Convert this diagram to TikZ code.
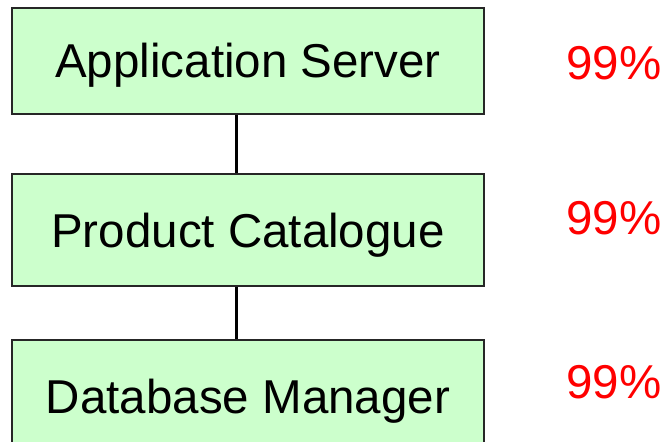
\documentclass[tikz,border=0pt]{standalone}
\usepackage{fontspec}
\setmainfont{Liberation Sans}
\usepackage{tikz}
\usetikzlibrary{positioning}
\definecolor{boxgreen}{HTML}{CCFFCC}
\definecolor{uptimered}{HTML}{FF0000}

\begin{document}
\begin{tikzpicture}[
    x=1bp, y=-1bp,
    component/.style={
        % The shape:
        rectangle,
        minimum width=472bp,
        inner sep=0pt,
        text height=34bp,
        text depth=0bp,
        % The fill
        line width=2bp,
        draw=black!85,
        fill=boxgreen,
        % The fonts
        font=\fontsize{47.5bp}{57bp}\selectfont},
    uptime/.style={
        anchor=base west,
        inner sep=0pt,
        text=uptimered,
        font=\fontsize{47.5bp}{57bp}\selectfont},
    link/.style={line width=3bp, draw=black}
  ]
  \useasboundingbox (0,0) rectangle (662,442);
  \node (app) [component,minimum height=106bp] at (248,61) {Application Server};
  \node (cat) [component,minimum height=112bp,below=58bp of app] {Product Catalogue};
  \node (db) [component,minimum height=112bp,below=52bp of cat] {Database Manager};
  % availability of each tier
  \node (app uptime) [uptime] at (566,80) {99\%};
  \node (cat uptime) [uptime] at (566,235) {99\%};
  \node (db uptime) [uptime] at (566,398) {99\%};
  \draw [link] ([xshift=-11.5bp]app.south) -- ([xshift=-11.5bp]cat.north);
  \draw [link] ([xshift=-11.5bp]cat.south) -- ([xshift=-11.5bp]db.north);
\end{tikzpicture}
\end{document}
